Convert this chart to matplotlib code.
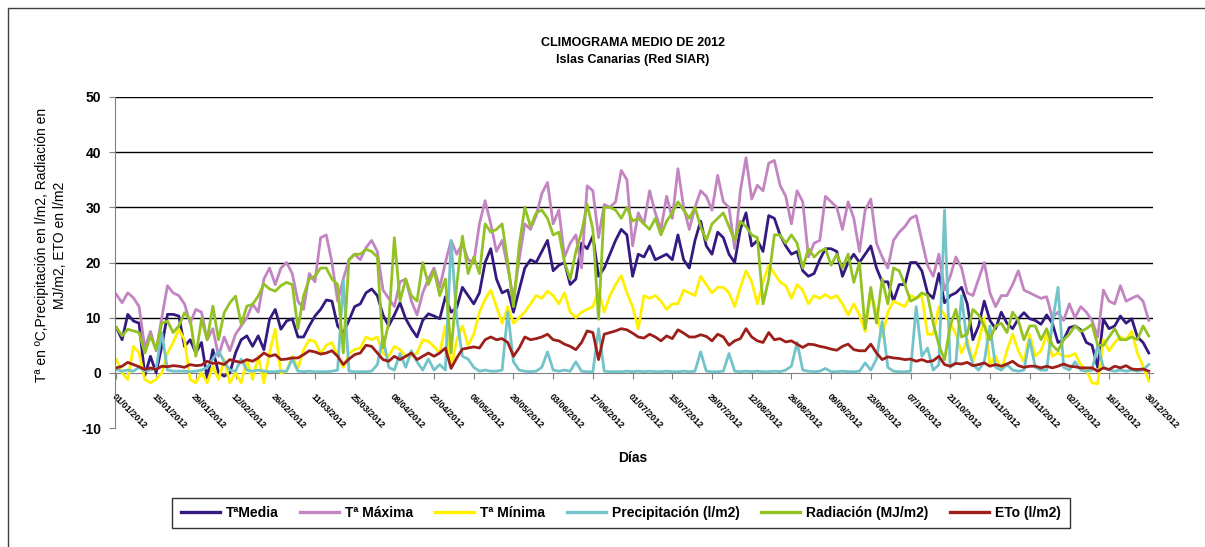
import matplotlib
matplotlib.use('Agg')
import matplotlib.pyplot as plt
from matplotlib.lines import Line2D
from matplotlib.patches import Rectangle

# ---------------- data (sampled every 2 days, day-of-year) ----------------
days = list(range(1, 366, 2))

t_media = [
    8.2, 6, 10.6, 9.4, 9, -0.5, 3, 0, 4.8, 10.6, 10.6, 10.3, 4.8, 6, 3.6, 5.5, -1, 4.2, 0, -0.6, 0, 3.6, 6, 6.7, 4.8, 6.7, 4.2, 9.7, 11.5, 7.9, 9.4,
    9.8, 6.5, 6.5, 8.5, 10.3, 11.5, 13.2, 13, 8.5, 7.2, 9.5, 12, 12.5, 14.5, 15.2, 14, 10.5, 8.5, 10.5, 12.7, 9.8, 8, 6.5, 9.5, 10.7, 10.3, 9.8, 13.8, 11, 11.8,
    15.5, 14, 12.5, 14.5, 20, 22.5, 17, 14.5, 15, 11, 15, 19, 20.5, 20, 22, 24, 18.5, 19.5, 20, 16, 17, 23.5, 22.5, 24.8, 17.5, 19, 21.5, 24, 26, 25, 17.5,
    21.5, 21, 23, 20.5, 21, 21.5, 20.5, 25, 20.5, 19, 24, 27.5, 23, 21.5, 25.5, 24.5, 21.5, 20, 26, 29, 23, 24, 22, 28.5, 28, 25, 23, 21.5, 22, 18.5, 17.5,
    18, 20.5, 22.5, 22.5, 22, 17.5, 20, 21.5, 20, 21.5, 23, 19, 16.5, 16.5, 13, 16, 16, 20, 20, 18.5, 14.5, 13.5, 18, 12.7, 14, 14.5, 15.5, 12.5, 6, 8.5,
    13, 9.5, 8, 11, 9, 8, 9.8, 10.9, 9.8, 9.5, 8.8, 10.5, 9, 5.5, 6, 8.2, 8.5, 7.8, 5.5, 5, 1, 9.7, 8, 8.5, 10.3, 9, 9.8, 6.5, 5.5, 3.6,
]

t_maxima = [
    14.2, 12.7, 14.5, 13.6, 12.0, 4.5, 7.5, 4.0, 10.0, 15.8, 14.5, 14.0, 12.5, 9.0, 11.5, 11.0, 6.0, 8.0, 3.0, 6.5, 4.0, 7.0, 8.5, 10.0, 12.5, 11.0, 17.0, 19.0, 16.0, 19.0, 20.0,
    18, 13, 11.5, 18, 16.5, 24.5, 25, 20, 13, 17, 20.5, 21.5, 20.5, 22.7, 24, 22, 15, 13.5, 12, 16.5, 17, 13, 10.5, 14.5, 17, 19, 15.5, 20, 24, 21.5,
    23.5, 20.5, 20, 27, 31.2, 27, 22, 24, 19, 13.5, 20.5, 27, 26, 28.5, 32.5, 34.5, 27, 29.5, 21, 23.5, 25, 19, 33.9, 33, 24.5, 30.5, 30, 31, 36.7, 35, 23,
    29, 27, 33, 29, 26, 32, 28, 37, 30, 26, 30, 33, 32, 29.5, 35.8, 31, 30, 22.5, 33, 39, 31.5, 34, 33, 38, 38.5, 34, 32, 27, 33, 31, 21,
    23.5, 24, 32, 31, 30, 26, 31, 28, 22, 29.5, 31.5, 23.5, 21, 19, 24, 25.5, 26.5, 28, 28.5, 24, 19.5, 17.5, 21.5, 15, 17.5, 21, 19, 14.5, 14, 17,
    20, 14.5, 12, 14, 14, 16, 18.5, 15, 14.5, 14, 13.5, 13.8, 10, 11, 9.5, 12.5, 10, 12, 11, 9.5, 6.5, 15, 13, 12.5, 15.8, 13, 13.5, 14, 13, 9.5,
]

t_minima = [
    2.4, 0, -1.2, 4.8, 3.6, -1.2, -1.8, -1.2, 0, 3.6, 5.5, 7.9, 6, -1.2, -1.8, 0, -1.8, 1.2, -1.2, 2.4, -1.8, 0, -1.8, 2.4, -1.2, 3, -1.8, 3.6, 7.9, 0, 0.3,
    3, 0.8, 4.2, 6, 5.7, 3.5, 5, 5.5, 3, 1, 3.5, 4.2, 4.5, 6.5, 6, 6.5, 3.5, 3, 4.8, 4.2, 3, 3, 3.6, 6, 5.7, 4.8, 3.6, 8.5, 1, 6,
    8.5, 5, 7, 11, 13.3, 15, 12, 9, 12, 9, 10, 11, 12.5, 14, 13.5, 14.8, 14, 12.5, 14.5, 11, 10, 11, 11.5, 12, 15, 11, 14, 16, 17.6, 14.5, 12,
    8, 14, 13.5, 14, 13, 11.5, 12.5, 12.5, 15, 14.5, 14, 17.5, 16, 14.5, 15.5, 15.5, 14.5, 12, 15.5, 18.5, 16.5, 12.5, 16.5, 19.5, 18, 16.5, 15.8, 13.5, 16, 15, 12.5,
    14, 13.5, 14.2, 13.5, 14, 12.5, 10.5, 12.5, 10.5, 7.5, 14.5, 11, 6.5, 11, 13, 12.5, 12, 14, 13.5, 14, 7, 7, 12, 10.5, 9, 7, 3.6, 6, 2, 5.5,
    10, 1.5, 3, 0.5, 4, 7, 4, 2, 7, 3, 4, 7, 3, 3.6, 3, 3, 3.5, 1.5, 0.5, -1.8, -2, 6, 4, 5.5, 6.5, 6, 7.5, 3.6, 1.2, -1.5,
]

precipitacion = [
    0.6, 0.3, 0.5, 0.3, 1, 0.3, 0.5, 0.8, 7.3, 0.5, 0.3, 0.3, 0.3, 0.2, 0.3, 0.5, 1, 2.5, 4, 2, 0.5, 0.3, 2.5, 0.5, 0.3, 0.5, 0.3, 0.2, 0.2, 0.3, 0.3,
    2.5, 0.3, 0.2, 0.3, 0.2, 0.2, 0.2, 0.3, 0.5, 16.7, 0.3, 0.2, 0.2, 0.2, 0.3, 1.5, 6.5, 1, 0.5, 3.5, 1, 4, 2, 0.5, 2.5, 0.5, 1.5, 0.5, 24, 10,
    3, 2.5, 1, 0.3, 0.5, 0.3, 0.3, 0.5, 11, 2, 0.5, 0.3, 0.2, 0.3, 1, 3.8, 0.5, 0.3, 0.5, 0.3, 2, 0.3, 0.2, 0.2, 8, 0.3, 0.2, 0.2, 0.2, 0.3, 0.2,
    0.3, 0.2, 0.3, 0.2, 0.2, 0.3, 0.2, 0.2, 0.3, 0.2, 0.3, 3.8, 0.3, 0.2, 0.2, 0.3, 3.5, 0.3, 0.2, 0.3, 0.2, 0.3, 0.2, 0.2, 0.3, 0.2, 0.5, 1.2, 5.5, 0.5, 0.3,
    0.2, 0.3, 0.8, 0.2, 0.2, 0.3, 0.2, 0.2, 0.3, 1.8, 0.5, 2.5, 9.3, 1, 0.3, 0.2, 0.2, 0.3, 12, 3, 4.5, 0.5, 1.5, 29.5, 1, 2, 14, 5, 1.5, 0.5,
    2, 8.5, 1, 0.5, 1.5, 0.5, 0.3, 0.5, 6, 1, 0.5, 0.5, 9, 15.5, 1, 0.5, 2, 0.5, 0.3, 0.5, 5, 1, 0.5, 0.3, 0.5, 0.3, 0.5, 0.3, 0.5, 1.5,
]

radiacion = [
    8.2, 6.7, 7.9, 7.6, 7.3, 3.6, 6.7, 4.2, 9, 9.4, 7.3, 8.5, 10.9, 9.7, 3, 9.7, 6, 12.1, 6, 10.9, 12.7, 13.9, 8.8, 12.1, 12.4, 13.9, 16.1, 15.2, 14.8, 15.8, 16.4,
    16, 8, 14, 17, 17.5, 19, 19, 17, 16, 3.6, 20.5, 21.5, 21.5, 22.4, 22, 21, 4.5, 9, 24.5, 13, 17, 14, 13, 20, 16, 18.5, 14, 17, 3.6, 16,
    24.8, 18, 21, 18, 27, 25.5, 26, 27, 20, 12, 23, 30, 26.5, 29, 29.5, 28, 25, 25.5, 20, 17, 22, 25.5, 30.5, 26, 9.7, 30, 30, 29.5, 28, 30, 27.5,
    28, 27, 26, 28, 25, 27.5, 29, 31, 29.5, 28, 30, 26.5, 24, 27, 28, 29, 26.5, 24, 27.5, 26.5, 25, 24.5, 12.5, 17, 25, 25, 23.5, 25, 23.5, 19, 22.5,
    21, 22, 22.5, 19.5, 21.5, 19, 21.5, 16.4, 20, 8, 15.5, 9, 17, 12.5, 19, 18.5, 16, 13, 13.5, 14.5, 14, 9, 5, 2.4, 8.5, 11.5, 6.5, 7, 11.5, 10.5,
    8.5, 6, 8.5, 9, 7.3, 11, 9.5, 6, 8.5, 8.5, 6, 8, 5, 4, 6, 7, 8.5, 7.5, 8, 8.8, 5, 5, 6.5, 8, 6, 6, 6.5, 6, 8.5, 6.7,
]

eto = [
    0.9, 1.2, 1.9, 1.5, 1.1, 0.6, 0.9, 0.6, 1.2, 1.1, 1.3, 1.2, 1.0, 1.5, 1.3, 1.4, 2.1, 1.7, 1.8, 1.5, 2.4, 2.1, 1.9, 2.4, 2.1, 2.7, 3.6, 3.0, 3.3, 2.4, 2.5,
    2.7, 2.7, 3.3, 4, 3.8, 3.4, 3.6, 4, 3, 1.5, 2.5, 3.3, 3.6, 5, 4.8, 3.6, 2.4, 2.1, 3, 2.4, 3, 3.6, 2.4, 3, 3.6, 3, 3.6, 4.5, 0.8, 2.7,
    4.3, 4.5, 4.7, 4.5, 6, 6.5, 6, 6.2, 5.5, 3, 4.5, 6.5, 6, 6.2, 6.5, 7, 6, 5.8, 5.2, 4.8, 4.2, 5.5, 7.6, 7.3, 2.4, 7, 7.3, 7.6, 8, 7.8, 7.2,
    6.5, 6.3, 7, 6.5, 5.8, 6.7, 6.2, 7.8, 7.2, 6.5, 6.5, 6.9, 6.6, 5.8, 7, 6.5, 5, 5.8, 6.2, 8, 6.5, 5.8, 5.5, 7.3, 6, 6.2, 5.6, 5.8, 5.2, 4.6, 5.2,
    5.1, 4.8, 4.6, 4.3, 4.1, 4.8, 5.2, 4.2, 4, 4, 5.2, 3.6, 2.4, 2.9, 2.7, 2.6, 2.4, 2.5, 2.1, 2.4, 2, 2.2, 3, 1.5, 1.2, 1.7, 1.6, 1.9, 1.3, 1.5,
    1.8, 1.2, 1.5, 1.2, 1.6, 2.1, 1.3, 1.0, 1.2, 1.2, 0.9, 1.2, 0.9, 1.2, 1.6, 1.2, 1.1, 0.9, 0.9, 0.9, 0.3, 0.9, 0.6, 1.2, 0.9, 1.3, 0.7, 0.6, 0.7, 0.3,
]

series_names = ['TªMedia', 'Tª Máxima', 'Tª Mínima', 'Precipitación (l/m2)',
                'Radiación (MJ/m2)', 'ETo (l/m2)']

tick_days = list(range(1, 366, 14))
tick_labels = ['01/01/2012', '15/01/2012', '29/01/2012', '12/02/2012', '26/02/2012',
               '11/03/2012', '25/03/2012', '08/04/2012', '22/04/2012', '06/05/2012',
               '20/05/2012', '03/06/2012', '17/06/2012', '01/07/2012', '15/07/2012',
               '29/07/2012', '12/08/2012', '26/08/2012', '09/09/2012', '23/09/2012',
               '07/10/2012', '21/10/2012', '04/11/2012', '18/11/2012', '02/12/2012',
               '16/12/2012', '30/12/2012']
y_ticks = [-10, 0, 10, 20, 30, 40, 50]

# ---------------- styling ----------------
plt.rcParams['font.family'] = ['Liberation Sans', 'DejaVu Sans']
colors = ['#341A80', '#C285C2', '#FFF000', '#72C4CA', '#92C223', '#9C1F1A']

W, H = 1205, 547
fig = plt.figure(figsize=(W / 100, H / 100), dpi=100)
fig.patch.set_facecolor('white')

# outer chart-area frame
fig.patches.append(Rectangle((8 / W, -0.02), 1.05, (H - 8) / H + 0.02,
                             transform=fig.transFigure, fill=False,
                             edgecolor='#404040', linewidth=1.0))

x0, x1, y_top, y_bot = 115, 1153, 97, 428
ax = fig.add_axes([x0 / W, 1 - y_bot / H, (x1 - x0) / W, (y_bot - y_top) / H])

all_series = [t_media, t_maxima, t_minima, precipitacion, radiacion, eto]
for vals, c, name in zip(all_series, colors, series_names):
    ax.plot(days, vals, color=c, lw=2.0, label=name, solid_joinstyle='round')

ax.set_xlim(0.5, 366.5)
ax.set_ylim(-10, 50)
for yv in [10, 20, 30, 40, 50]:
    ax.axhline(yv, color='black', lw=1.0, zorder=0)

ax.spines['top'].set_visible(False)
ax.spines['right'].set_visible(False)
ax.spines['left'].set_color('#808080')
ax.spines['bottom'].set_color('#808080')
ax.spines['bottom'].set_position(('data', 0))
ax.spines['bottom'].set_zorder(0.5)

ax.set_yticks(y_ticks)
ax.set_yticklabels([str(v) for v in y_ticks], fontsize=10, fontweight='bold')
ax.tick_params(axis='y', direction='out', length=4, color='#808080', pad=6)

ax.set_xticks(tick_days)
ax.set_xticklabels(tick_labels, fontsize=6.5, fontweight='bold', rotation=-45,
                   ha='left', va='top', rotation_mode='anchor')
ax.tick_params(axis='x', direction='out', length=4, color='#808080', pad=10)

# titles and axis labels
fig.text(633 / W, 1 - 43 / H, 'CLIMOGRAMA MEDIO DE 2012', ha='center', va='center',
         fontsize=9, fontweight='bold')
fig.text(633 / W, 1 - 60 / H, 'Islas Canarias (Red SIAR)', ha='center', va='center',
         fontsize=9, fontweight='bold')
fig.text(51 / W, 1 - 245 / H,
         'Tª en ºC,Precipitación en l/m2, Radiación en\nMJ/m2, ETO en l/m2',
         rotation=90, ha='center', va='center', fontsize=10, multialignment='center',
         linespacing=1.35)
fig.text(633 / W, 1 - 458 / H, 'Días', ha='center', va='center', fontsize=10,
         fontweight='bold')

handles = [Line2D([], [], color=c, lw=2.4) for c in colors]
leg = fig.legend(handles, series_names, loc='center', bbox_to_anchor=(621 / W, 1 - 513 / H),
                 ncol=6, frameon=True, fancybox=False, edgecolor='black',
                 prop={'size': 10, 'weight': 'bold'}, handlelength=2.8,
                 handletextpad=0.45, columnspacing=1.55, borderpad=0.6)
leg.get_frame().set_linewidth(1.0)

fig.savefig('out.png', dpi=100)
